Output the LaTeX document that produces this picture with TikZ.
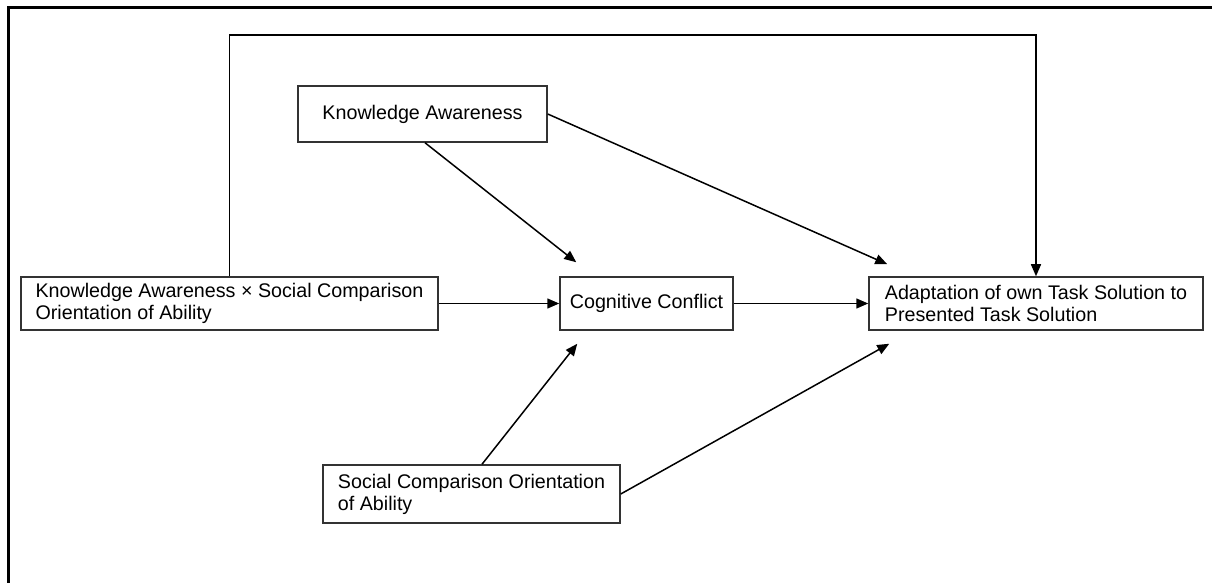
\documentclass[tikz,border=0pt]{standalone}
\usepackage{fontspec}
\setmainfont{Liberation Sans}
\usetikzlibrary{arrows.meta,calc}

\begin{document}
\begin{tikzpicture}[x=0.5pt, y=-0.5pt,
  box/.style={draw=black!80, line width=0.75pt, align=left, inner sep=0pt,
    font=\fontsize{9.85}{11}\selectfont},
  link/.style={line width=0.75pt, -{Triangle[length=6pt,width=5pt]}}]
  \useasboundingbox (0,0) rectangle (1212,583);
  % frame
  \draw[line width=1.5pt] (8,7.5) rectangle (1240,610);

  % variables
  \node[box, minimum width=124.5pt, minimum height=28pt] (ka) at (422.5,114) {Knowledge Awareness};
  \node[box, minimum width=208.5pt, minimum height=26.5pt] (kasco) at (229.5,303.5)
    {Knowledge Awareness \texttimes{} Social Comparison\\Orientation of Ability};
  \node[box, minimum width=86.5pt, minimum height=26.5pt] (cc) at (646.5,303.5) {Cognitive Conflict};
  \node[box, minimum width=167pt, minimum height=26.5pt] (adapt) at (1036,303.5)
    {Adaptation of own Task Solution to\\Presented Task Solution};
  \node[box, minimum width=148.5pt, minimum height=29pt] (sco) at (471.5,494)
    {Social Comparison Orientation\\of Ability};

  % paths
  \coordinate (bend) at (630,35);
  \draw[link] (kasco.north) |- (bend) -| (adapt.north);
  \draw[link] ($(ka.south)+(2.5,0)$) -- ($(cc.north west)+(17,-14)$);
  \draw[link] (ka.east) -- ($(adapt.north west)+(19,-12)$);
  \draw[link] (kasco.east) -- (cc.west);
  \draw[link] (cc.east) -- (adapt.west);
  \draw[link] ($(sco.north)+(10.5,0)$) -- ($(cc.south west)+(18,13)$);
  \draw[link] (sco.east) -- ($(adapt.south west)+(21,13)$);
\end{tikzpicture}
\end{document}
